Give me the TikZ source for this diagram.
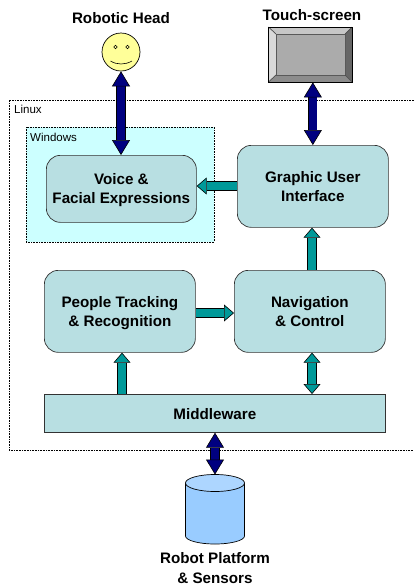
\documentclass[tikz,border=0pt]{standalone}
\usepackage{fontspec}
\setmainfont{Liberation Sans}
\usetikzlibrary{arrows.meta,shapes.geometric,calc}
\definecolor{boxfill}{RGB}{184,223,226}
\definecolor{winfill}{RGB}{204,255,255}
\definecolor{tealar}{RGB}{0,153,153}
\definecolor{navyar}{RGB}{0,0,128}
\definecolor{facey}{RGB}{255,255,153}
\definecolor{cylb}{RGB}{153,204,255}
\definecolor{cylt}{RGB}{173,214,255}
\tikzset{
  x=1pt,y=-1pt,
  txt/.style={font=\fontsize{15.2}{19.5}\selectfont\bfseries,align=center,text=black,inner sep=0},
  rbox/.style={draw=black!80,line width=.7pt,fill=boxfill,rounded corners=14pt,anchor=north west,minimum height=0,inner sep=0},
  region/.style={draw=black,densely dotted,line width=.6pt},
  small/.style={font=\fontsize{11.5}{13}\selectfont,inner sep=0,anchor=west},
  tealarrow/.style={draw=black,line width=.6pt,double=tealar,double distance=8pt,-{Triangle[fill=tealar,color=black,length=10pt,width=17pt,line width=.6pt]}},
  tealboth/.style={draw=black,line width=.6pt,double=tealar,double distance=8pt,{Triangle[fill=tealar,color=black,length=10pt,width=17pt,line width=.6pt]}-{Triangle[fill=tealar,color=black,length=10pt,width=17pt,line width=.6pt]}},
  navyboth/.style={draw=black,line width=.6pt,double=navyar,double distance=8pt,{Triangle[fill=navyar,color=black,length=15pt,width=18pt,line width=.6pt]}-{Triangle[fill=navyar,color=black,length=15pt,width=18pt,line width=.6pt]}},
}
\begin{document}
\begin{tikzpicture}
\useasboundingbox (0,0) rectangle (414,587);
% regions
\draw[region] (414,100) -- (9,100) -- (9,450) -- (414,450);
\node[small] (linux) at (14,109) {Linux};
\draw[region,fill=winfill] (26,127) rectangle (214,242);
\node[small] (windows) at (30,137) {Windows};
% boxes
\node[rbox,minimum width=150pt,minimum height=67pt] (voice) at (46,155) {};
\node[txt,yshift=-1pt] (voicet) at (voice.center) {Voice \&\\Facial Expressions};
\node[rbox,minimum width=151pt,minimum height=82pt] (gui) at (237,145) {};
\node[txt] (guit) at (gui.center) {Graphic User\\Interface};
\node[rbox,minimum width=151pt,minimum height=82pt] (people) at (44,270) {};
\node[txt,yshift=-1.5pt] (peoplet) at (people.center) {People Tracking\\\& Recognition};
\node[rbox,minimum width=151pt,minimum height=82pt] (nav) at (234,270) {};
\node[txt] (navt) at (nav.center) {Navigation\\\& Control};
\node[rbox,rounded corners=0,minimum width=341pt,minimum height=38pt] (mid) at (44,394) {};
\node[txt,yshift=-1pt] (midt) at (mid.center) {Middleware};
% head
\node[draw=black,line width=.7pt,fill=facey,circle,minimum size=38pt,inner sep=0] (head) at (121,52) {};
\draw[line width=.6pt] (115.5,47) circle (1.7pt) (127.5,47) circle (1.7pt);
\draw[line width=.6pt] (110.5,61) .. controls (117,65) and (125,65) .. (132,61);
\node[txt] (headl) at (121,18) {Robotic Head};
% screen
\coordinate (s1) at (268.5,27); \coordinate (s2) at (352,27);
\coordinate (s3) at (352,82); \coordinate (s4) at (268.5,82);
\coordinate (i1) at (276,34); \coordinate (i2) at (345,34);
\coordinate (i3) at (345,75); \coordinate (i4) at (276,75);
\fill[black!22] (s1) -- (s2) -- (i2) -- (i1) -- cycle;
\fill[black!60] (s2) -- (s3) -- (i3) -- (i2) -- cycle;
\fill[black!45] (s3) -- (s4) -- (i4) -- (i3) -- cycle;
\fill[black!15] (s4) -- (s1) -- (i1) -- (i4) -- cycle;
\draw[black!65,line width=.7pt,fill=black!33] (i1) rectangle (i3);
\draw[black!70,line width=.7pt] (s1) -- (i1) (s2) -- (i2) (s3) -- (i3) (s4) -- (i4);
\node[draw=black,line width=.8pt,inner sep=0,minimum width=83.5pt,minimum height=55pt] (screen) at (310.25,54.5) {};
\node[txt] (screenl) at (312,15) {Touch-screen};
% cylinder
\coordinate (ctl) at (185.5,483);
\coordinate (ctr) at (244.5,483);
\draw[black,line width=.7pt,fill=cylb] (ctl) -- (185.5,536) arc[start angle=180,end angle=360,x radius=29.5,y radius=-8] -- (ctr);
\draw[black,line width=.7pt,fill=cylt] (215,483) ellipse[x radius=29.5,y radius=8.5];
\coordinate (cyl) at (215,474.5);
\node[txt,yshift=-1pt] (cyll) at (215,567) {Robot Platform\\\& Sensors};
% arrows
\draw[navyboth] (head.south) -- (head.south |- voice.north);
\draw[navyboth] (screen.south -| gui.north) -- (gui.north);
\draw[navyboth] (mid.south -| cyl) -- (cyl);
\draw[tealarrow] (gui.west |- 0,186) -- (voice.east |- 0,186);
\draw[tealarrow] (people.east |- 0,313) -- (nav.west |- 0,313);
\draw[tealarrow] (mid.north -| 122,0) -- (people.south -| 122,0);
\draw[tealarrow] (nav.north -| 312,0) -- (gui.south -| 312,0);
\draw[tealboth] (nav.south -| 312,0) -- (mid.north -| 312,0);
\end{tikzpicture}
\end{document}
